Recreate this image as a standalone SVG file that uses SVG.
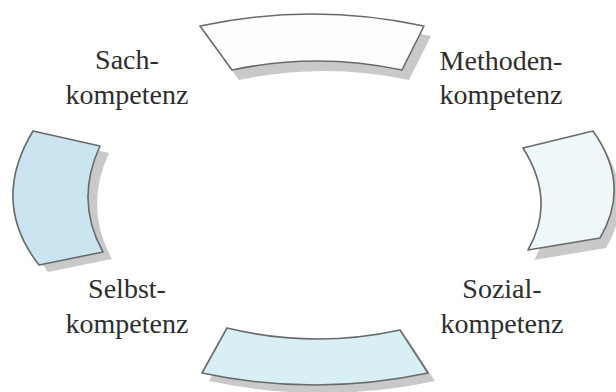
<svg xmlns="http://www.w3.org/2000/svg" width="616" height="392" viewBox="0 0 616 392">
  <style>
    .seg { stroke: #6a6a6a; stroke-width: 1.6; stroke-linejoin: round; }
    .shadow { fill: #c9c9c9; stroke: none; }
    .label { font-family: "Liberation Serif", "Times New Roman", serif; font-size: 28px; fill: #2e2e2e; text-anchor: middle; }
  </style>
  <defs>
    <path id="p-top" d="M200,26 Q312,2 424,26 L402,70 Q317,52 232,70 Z"/>
    <path id="p-left" d="M33,131 L100,146 Q74.5,201 103,252 L39,265 Q-10,202 33,131 Z"/>
    <path id="p-right" d="M523,148 L593,131 Q631.5,185 600,238 L528,250 Q556.5,201 523,148 Z"/>
    <path id="p-bottom" d="M227,328 Q313.5,349 400,330 L428,373 Q315,397 202,373 Z"/>
  </defs>
  <rect width="616" height="392" fill="#ffffff"/>

  <!-- top segment -->
  <g id="seg-top">
    <use href="#p-top" class="shadow" transform="translate(7,10)"/>
    <use href="#p-top" class="seg" fill="#fcfefe"/>
  </g>
  <!-- right segment -->
  <g id="seg-right">
    <use href="#p-right" class="shadow" transform="translate(6,10)"/>
    <use href="#p-right" class="seg" fill="#eef8fa"/>
  </g>
  <!-- bottom segment -->
  <g id="seg-bottom">
    <use href="#p-bottom" class="shadow" transform="translate(7,8)"/>
    <use href="#p-bottom" class="seg" fill="#d9eff6"/>
  </g>
  <!-- left segment -->
  <g id="seg-left">
    <use href="#p-left" class="shadow" transform="translate(9,7)"/>
    <use href="#p-left" class="seg" fill="#cae5f0"/>
  </g>

  <g id="label-sach">
    <text class="label" x="127" y="69">Sach-</text>
    <text class="label" x="127" y="104">kompetenz</text>
  </g>
  <g id="label-methoden">
    <text class="label" x="501" y="70">Methoden-</text>
    <text class="label" x="501" y="104">kompetenz</text>
  </g>
  <g id="label-selbst">
    <text class="label" x="127" y="298">Selbst-</text>
    <text class="label" x="127" y="333">kompetenz</text>
  </g>
  <g id="label-sozial">
    <text class="label" x="502" y="298">Sozial-</text>
    <text class="label" x="502" y="333">kompetenz</text>
  </g>
</svg>
